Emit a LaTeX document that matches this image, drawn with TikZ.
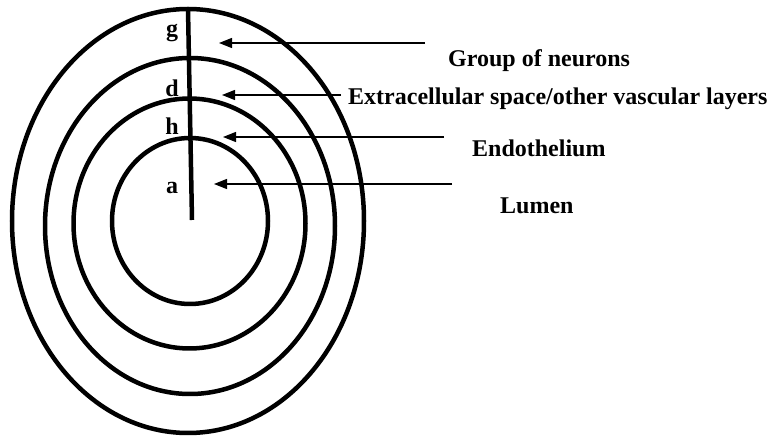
\documentclass[tikz,border=0pt]{standalone}
\usepackage{fontspec}
\setmainfont{Liberation Serif}
\usetikzlibrary{arrows.meta}
\begin{document}
\begin{tikzpicture}[x=1pt,y=-1pt,
  ring/.style={line width=4.5pt},
  pointer/.style={line width=1.2pt,-{Triangle[length=13pt,width=10pt]}},
  lbl/.style={font=\bfseries\fontsize{24}{28}\selectfont,inner sep=0pt},
  letter/.style={font=\bfseries\fontsize{24}{28}\selectfont,inner sep=0pt}]
\useasboundingbox (0,0) rectangle (772,438);
% rings
\draw[ring] (188,221) ellipse [x radius=176, y radius=212];
\draw[ring] (190,226) ellipse [x radius=145, y radius=168];
\draw[ring] (189.5,223.5) ellipse [x radius=116, y radius=125];
\draw[ring] (190,221) ellipse [x radius=78, y radius=83];
% radial line
\coordinate (top) at (188,9);
\coordinate (ctr) at (192,220);
\draw[ring] (top) -- (ctr);
% letters
\node[letter] (g) at (172,33) {g};
\node[letter] (d) at (172,88) {d};
\node[letter] (h) at (172,126) {h};
\node[letter] (a) at (172,188) {a};
% labels
\node[lbl,anchor=west] (t1) at (448,61) {Group of neurons};
\node[lbl,anchor=west] (t2) at (348,99) {Extracellular space/other vascular layers};
\node[lbl,anchor=west] (t3) at (472,148) {Endothelium};
\node[lbl,anchor=west] (t4) at (500,206) {Lumen};
% arrows
\coordinate (s1) at (425,43);  \coordinate (e1) at (219,43);
\coordinate (s2) at (341,95);  \coordinate (e2) at (222,95);
\coordinate (s3) at (444,137); \coordinate (e3) at (223,137);
\coordinate (s4) at (452,184); \coordinate (e4) at (214,184);
\draw[pointer] (s1) -- (e1);
\draw[pointer] (s2) -- (e2);
\draw[pointer] (s3) -- (e3);
\draw[pointer] (s4) -- (e4);
\end{tikzpicture}
\end{document}
